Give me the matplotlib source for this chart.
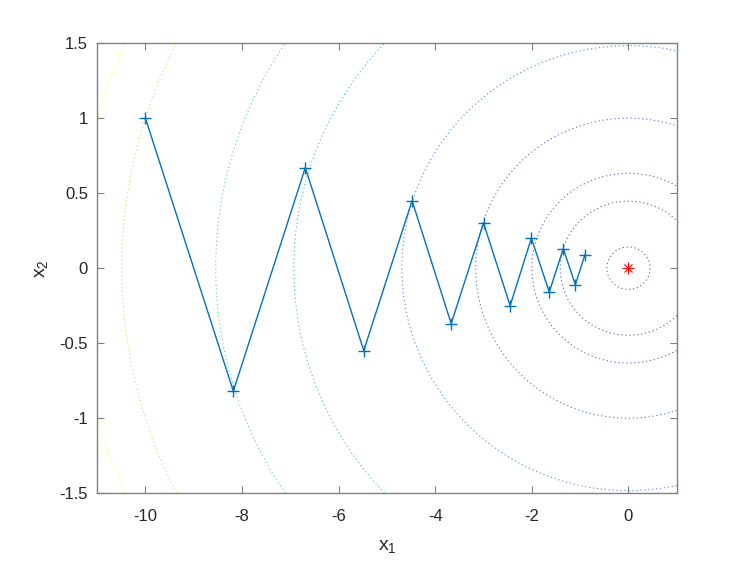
import numpy as np
import matplotlib
matplotlib.use("Agg")
import matplotlib.pyplot as plt
from matplotlib.colors import LinearSegmentedColormap

plt.rcParams['font.family'] = ['Liberation Sans', 'DejaVu Sans']
plt.rcParams['axes.unicode_minus'] = False
plt.rcParams['mathtext.default'] = 'regular'

# Gradient-descent iterates
x1_iter = [-10.0, -8.18, -6.69, -5.48, -4.48, -3.67, -3.00, -2.45, -2.01, -1.64, -1.35, -1.10, -0.90]
x2_iter = [1.00, -0.82, 0.67, -0.55, 0.45, -0.37, 0.30, -0.25, 0.20, -0.16, 0.13, -0.11, 0.09]

# Optimum
x_opt = [0.0]
y_opt = [0.0]

# Objective f = x1^2 + gamma*x2^2 and contour levels
gamma = 10.0
levels = [0.2, 2, 4, 10, 22, 48, 73, 110, 131]

xticks = [-10, -8, -6, -4, -2, 0]
yticks = [-1.5, -1, -0.5, 0, 0.5, 1, 1.5]
ytick_labels = ['-1.5', '-1', '-0.5', '0', '0.5', '1', '1.5']

parula = LinearSegmentedColormap.from_list('parula', [
    (0.00, (0.2081, 0.1663, 0.5292)),
    (0.12, (0.1400, 0.3300, 0.8900)),
    (0.25, (0.0600, 0.5300, 0.8800)),
    (0.40, (0.0500, 0.6600, 0.8000)),
    (0.55, (0.2000, 0.7300, 0.6300)),
    (0.70, (0.5500, 0.7500, 0.4200)),
    (0.85, (0.9800, 0.7300, 0.2400)),
    (1.00, (0.9763, 0.9831, 0.0538)),
])

fig = plt.figure(figsize=(7.47, 5.61), dpi=100)
ax = fig.add_axes([0.13, 0.121, 0.776, 0.802])

g1 = np.linspace(-11, 1, 600)
g2 = np.linspace(-1.5, 1.5, 300)
G1, G2 = np.meshgrid(g1, g2)
F = G1**2 + gamma * G2**2
ax.contour(G1, G2, F, levels=levels, cmap=parula, vmin=min(levels), vmax=max(levels),
           linestyles=[(0, (1.2, 2.6))], linewidths=0.75, alpha=0.75)

ax.plot(x1_iter, x2_iter, '-', color=(0, 0.447, 0.741), linewidth=1.0,
        marker='+', markersize=9, markeredgewidth=1.0)
ax.plot(x_opt, y_opt, linestyle='none', marker='+', color='red', markersize=8, markeredgewidth=0.8)
ax.plot(x_opt, y_opt, linestyle='none', marker='x', color='red', markersize=6, markeredgewidth=0.8)

ax.set_xlim(-11, 1)
ax.set_ylim(-1.5, 1.5)
ax.set_xticks(xticks)
ax.set_xticklabels([str(t) for t in xticks])
ax.set_yticks(yticks)
ax.set_yticklabels(ytick_labels)

axcol = (0.5, 0.5, 0.5)
for s in ax.spines.values():
    s.set_color(axcol)
    s.set_linewidth(1.0)
ax.tick_params(direction='in', top=True, right=True, length=5, width=0.8,
               color=axcol, labelcolor=(0.15, 0.15, 0.15), labelsize=12)
ax.tick_params(axis='x', pad=11.5)
ax.tick_params(axis='y', pad=6.5)

ax.set_xlabel('$x_1$', fontsize=14, color=(0.15, 0.15, 0.15), labelpad=10)
ax.set_ylabel('$x_2$', fontsize=14, color=(0.15, 0.15, 0.15), labelpad=7)

fig.savefig('out.png', dpi=100)
